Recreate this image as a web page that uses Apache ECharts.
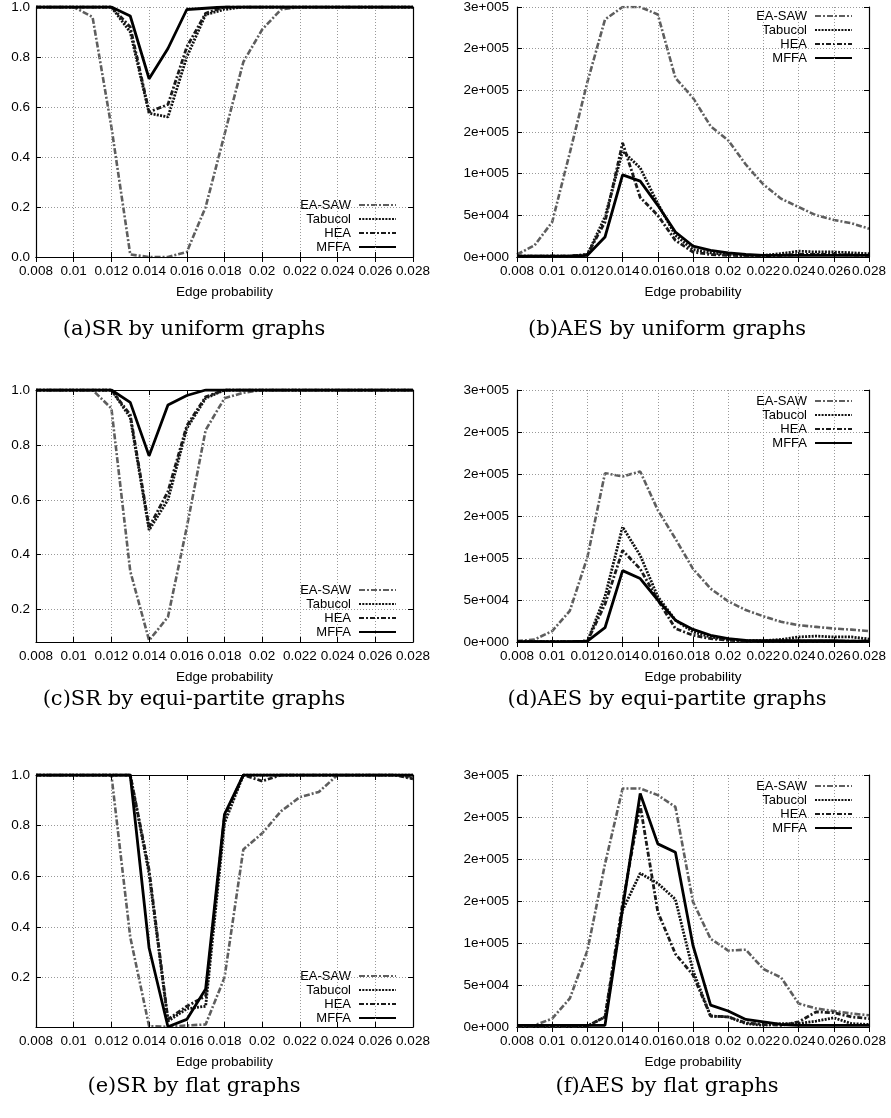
<!DOCTYPE html>
<html><head><meta charset="utf-8">
<script src="https://cdn.jsdelivr.net/npm/echarts@6/dist/echarts.min.js"></script>
<style>html,body{margin:0;padding:0;background:#fff}#c{width:891px;height:1118px}</style>
</head><body><div id="c"></div>
<script>
// ---------- data ----------
const edgeProb = [0.008,0.009,0.010,0.011,0.012,0.013,0.014,0.015,0.016,0.017,0.018,0.019,0.020,0.021,0.022,0.023,0.024,0.025,0.026,0.027,0.028];
const xTickLabels = ['0.008','0.01','0.012','0.014','0.016','0.018','0.02','0.022','0.024','0.026','0.028'];
const srTickLabels = ['0.0','0.2','0.4','0.6','0.8','1.0'];
const aesTickLabels = ['0e+000','5e+004','1e+005','2e+005','2e+005','2e+005','3e+005'];
const seriesNames = ['EA-SAW','Tabucol','HEA','MFFA'];
const captions = ['(a)SR by uniform graphs','(b)AES by uniform graphs','(c)SR by equi-partite graphs','(d)AES by equi-partite graphs','(e)SR by flat graphs','(f)AES by flat graphs'];

// (a) SR by uniform graphs
const srUniEASAW  = [1,1,1,0.96,0.52,0.01,0,0,0.02,0.2,0.49,0.78,0.91,0.99,1,1,1,1,1,1,1];
const srUniTabucol= [1,1,1,1,1,0.90,0.575,0.56,0.80,0.97,0.99,1,1,1,1,1,1,1,1,1,1];
const srUniHEA    = [1,1,1,1,1,0.92,0.58,0.61,0.84,0.975,1,1,1,1,1,1,1,1,1,1,1];
const srUniMFFA   = [1,1,1,1,1,0.964,0.713,0.834,0.99,0.995,1,1,1,1,1,1,1,1,1,1,1];
// (b) AES by uniform graphs
const aesUniEASAW  = [3000,14000,42000,125000,210000,285000,300000,300000,291000,215000,191000,157000,140000,111000,87000,70000,60000,50000,44500,40500,34000];
const aesUniTabucol= [1000,1000,1000,1000,3000,48000,127000,107000,64000,26000,9000,5000,3000,2000,2000,4000,7000,6000,6000,5000,4000];
const aesUniHEA    = [1000,1000,1000,1000,3000,42000,137000,71500,50000,20000,6000,3000,2000,1500,1500,2000,3000,3000,3000,2500,2000];
const aesUniMFFA   = [1000,1000,1000,1000,2000,24000,98500,91000,62000,30000,13000,8000,5000,3000,2000,2000,2000,2000,2000,2000,2000];
// (c) SR by equi-partite graphs
const srEquEASAW  = [1,1,1,1,0.933,0.34,0.088,0.173,0.50,0.854,0.97,0.99,1,1,1,1,1,1,1,1,1];
const srEquTabucol= [1,1,1,1,1,0.90,0.49,0.60,0.86,0.97,1,1,1,1,1,1,1,1,1,1,1];
const srEquHEA    = [1,1,1,1,1,0.91,0.50,0.63,0.87,0.975,1,1,1,1,1,1,1,1,1,1,1];
const srEquMFFA   = [1,1,1,1,1,0.955,0.76,0.945,0.98,1,1,1,1,1,1,1,1,1,1,1,1];
// (d) AES by equi-partite graphs
const aesEquEASAW  = [1000,3000,13000,37000,101000,201000,197000,203000,157000,123000,87000,63500,48500,38000,30600,24000,20000,18000,16000,14700,13000];
const aesEquTabucol= [500,500,500,500,1000,54000,137000,103000,54000,26000,12000,6000,3000,1500,1500,3000,6000,7000,6000,6000,3500];
const aesEquHEA    = [500,500,500,500,1000,45000,109000,87000,50000,16000,8000,4000,2000,1000,1000,1000,1000,1000,1000,1000,1000];
const aesEquMFFA   = [500,500,500,500,1000,17000,85000,75500,50000,26000,15000,8000,4000,2000,1500,1500,1500,1500,1500,1000,1000];
// (e) SR by flat graphs
const srFlaEASAW  = [1,1,1,1,1,0.36,0.008,0.006,0.011,0.015,0.2,0.706,0.77,0.857,0.913,0.933,1,1,1,1,0.99];
const srFlaTabucol= [1,1,1,1,1,1,0.61,0.028,0.077,0.087,0.81,1,1,1,1,1,1,1,1,1,1];
const srFlaHEA    = [1,1,1,1,1,1,0.625,0.035,0.087,0.127,0.835,1,0.976,1,1,1,1,1,1,1,0.985];
const srFlaMFFA   = [1,1,1,1,1,1,0.317,0.006,0.035,0.155,0.845,1,1,1,1,1,1,1,1,1,1];
// (f) AES by flat graphs
const aesFlaEASAW  = [1000,2000,10000,34000,91000,194000,284000,284000,276000,262000,149000,105000,91000,92000,69000,59000,28000,22000,19000,16000,14000];
const aesFlaTabucol= [500,500,500,500,1000,12000,139000,183000,171000,152000,67000,13000,12000,4000,2000,4000,4000,7000,11000,4000,3000];
const aesFlaHEA    = [500,500,500,500,1000,12000,147000,264000,137000,87000,62000,13000,12000,5000,3000,2000,6000,18000,17000,12000,10000];
const aesFlaMFFA   = [2000,2000,2000,2000,2000,2000,141000,278000,218000,208000,97000,26000,19000,9000,6000,3000,2000,2000,2000,2000,2000];

// ---------- layout / styles ----------
const panels = [
  {kind:'sr',  yMin:0,     grid:{left:36, top:5,   width:377, height:252}, data:[srUniEASAW,srUniTabucol,srUniHEA,srUniMFFA], legend:{right:488, top:195}, cap:{x:194,y:330}},
  {kind:'aes', yMin:0,     grid:{left:517,top:5,   width:352, height:252}, data:[aesUniEASAW,aesUniTabucol,aesUniHEA,aesUniMFFA], legend:{right:32, top:6}, cap:{x:667,y:330}},
  {kind:'sr',  yMin:0.082, grid:{left:36, top:390, width:377, height:252}, data:[srEquEASAW,srEquTabucol,srEquHEA,srEquMFFA], legend:{right:488, top:580}, cap:{x:194,y:700}},
  {kind:'aes', yMin:0,     grid:{left:517,top:390, width:352, height:252}, data:[aesEquEASAW,aesEquTabucol,aesEquHEA,aesEquMFFA], legend:{right:32, top:391}, cap:{x:667,y:700}},
  {kind:'sr',  yMin:0.005, grid:{left:36, top:775, width:377, height:252}, data:[srFlaEASAW,srFlaTabucol,srFlaHEA,srFlaMFFA], legend:{right:488, top:966}, cap:{x:194,y:1087}},
  {kind:'aes', yMin:0,     grid:{left:517,top:775, width:352, height:252}, data:[aesFlaEASAW,aesFlaTabucol,aesFlaHEA,aesFlaMFFA], legend:{right:32, top:776}, cap:{x:667,y:1087}}
];
const lineStyles = [
  {color:'#5e5e5e', width:2.6, type:[6,2,2,2]},
  {color:'#111',    width:2.8, type:[2,1.3]},
  {color:'#1a1a1a', width:2.8, type:[5,2,2,2]},
  {color:'#000',    width:2.8, type:'solid'}
];
const FONT = '"Liberation Sans", Arial, sans-serif';
const gridLine = {show:true, lineStyle:{color:'#999', width:1, type:[1,2]}};
const axLine = {show:true, lineStyle:{color:'#000', width:1.2}};
const axTick = {show:true, inside:true, length:5, lineStyle:{color:'#000'}};

const grids=[], xAxes=[], yAxes=[], series=[], legends=[], graphics=[];
panels.forEach((p, i) => {
  grids.push(Object.assign({show:false}, p.grid));
  const xBase = {gridIndex:i, type:'value', min:0.008, max:0.028, interval:0.002};
  xAxes.push(Object.assign({}, xBase, {
    position:'bottom',
    name:'Edge probability', nameLocation:'middle', nameGap:28,
    nameTextStyle:{fontFamily:FONT, fontSize:13.5, color:'#000'},
    axisLine:axLine, axisTick:axTick,
    axisLabel:{show:true, margin:7, fontFamily:FONT, fontSize:13.5, color:'#000', showMinLabel:true, showMaxLabel:true,
      formatter: v => xTickLabels[Math.round((v-0.008)/0.002)] || ''},
    splitLine:gridLine, z:5
  }));
  xAxes.push(Object.assign({}, xBase, {
    position:'top', axisLine:axLine, axisLabel:{show:false}, splitLine:{show:false}, axisTick:axTick, z:5
  }));
  let yBase;
  if (p.kind === 'sr') {
    yBase = {gridIndex:i, type:'value', min:p.yMin, max:1, splitNumber:5};
    if (p.yMin === 0) yBase.interval = 0.2;
  } else {
    yBase = {gridIndex:i, type:'value', min:0, max:300000, interval:50000};
  }
  yAxes.push(Object.assign({}, yBase, {
    position:'left',
    axisLine:axLine, axisTick:axTick,
    axisLabel:{show:true, margin: p.kind==='sr'?6:8, fontFamily:FONT, fontSize:13.5, color:'#000',
      showMinLabel: p.yMin === 0, showMaxLabel:true,
      formatter: v => {
        if (p.kind === 'sr') {
          const k = v/0.2; return Math.abs(k-Math.round(k))<1e-6 ? srTickLabels[Math.round(k)] : '';
        }
        return aesTickLabels[Math.round(v/50000)] || '';
      }},
    splitLine:gridLine, z:5
  }));
  yAxes.push(Object.assign({}, yBase, {
    position:'right', axisLine:axLine, axisLabel:{show:false}, splitLine:{show:false}, axisTick:axTick, z:5
  }));
  seriesNames.forEach((name, s) => {
    series.push({
      name, type:'line', xAxisIndex:2*i, yAxisIndex:2*i,
      data: edgeProb.map((x, k) => [x, p.data[s][k]]),
      symbol:'none', showSymbol:false,
      color: lineStyles[s].color,
      lineStyle: lineStyles[s], z: 3 + s
    });
  });
  legends.push({
    orient:'vertical', align:'right', right:p.legend.right, top:p.legend.top,
    data: seriesNames, itemWidth:37, itemHeight:10, itemGap:0,
    padding:[3,6,1,4], backgroundColor:'#fff', selectedMode:false,
    itemStyle:{opacity:0},
    textStyle:{fontFamily:FONT, fontSize:13, color:'#000', lineHeight:14, padding:[0,3,0,0]}
  });
  graphics.push({type:'text', x:p.cap.x, y:p.cap.y, style:{text:captions[i], align:'center', verticalAlign:'middle', font:'21px "DejaVu Serif", serif', fill:'#000'}});
});

const chart = echarts.init(document.getElementById('c'), null, {renderer:'canvas'});
chart.setOption({
  animation:false,
  backgroundColor:'#fff',
  grid:grids, xAxis:xAxes, yAxis:yAxes, series, legend:legends, graphic:graphics
});
</script></body></html>
